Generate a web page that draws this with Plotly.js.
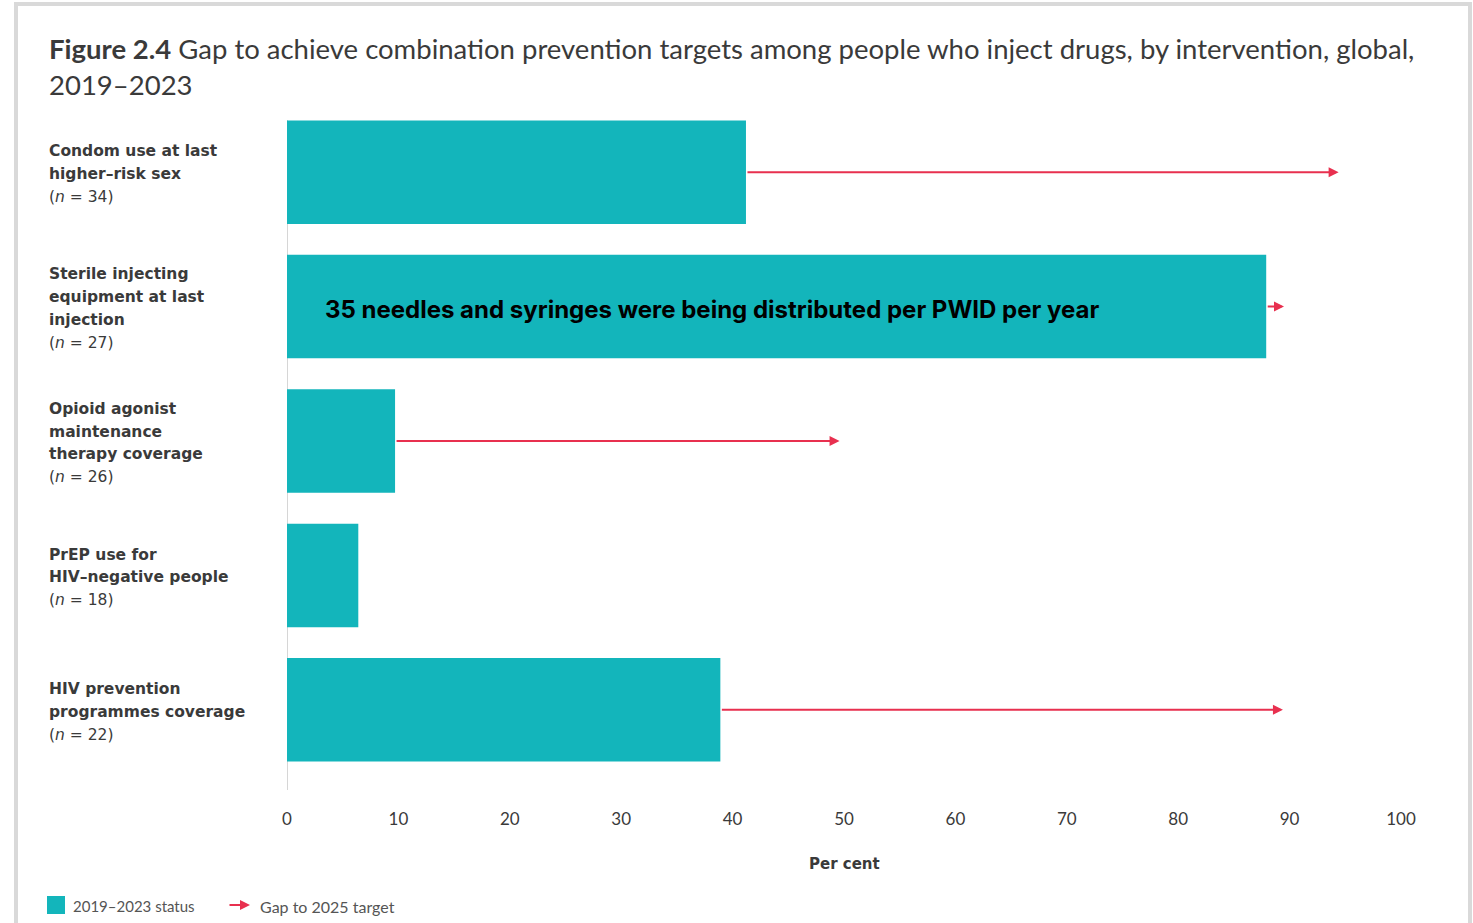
<!DOCTYPE html>
<html>
<head>
<meta charset="utf-8">
<script src="https://cdn.plot.ly/plotly-3.0.1.min.js"></script>
<style>
  html, body { margin: 0; padding: 0; background: #ffffff; }
  #wrap { position: relative; width: 1473px; height: 923px; overflow: hidden; }
  #chart { position: absolute; left: 0; top: 0; width: 1473px; height: 923px; }
  #frame { position: absolute; left: 14px; top: 2px; width: 1450px; height: 940px;
           border: 4px solid #d9d9d9; pointer-events: none; }
</style>
</head>
<body>
<div id="wrap">
  <div id="chart"></div>
  <div id="frame"></div>
</div>
<script>
// ---- data ----
const categoryIds = ["condom", "sterile", "opioid", "prep", "hivprev"];
const categoryLabels = [
  ["Condom use at last", "higher–risk sex"],
  ["Sterile injecting", "equipment at last", "injection"],
  ["Opioid agonist", "maintenance", "therapy coverage"],
  ["PrEP use for", "HIV–negative people"],
  ["HIV prevention", "programmes coverage"]
];
const sampleSizes = [34, 27, 26, 18, 22];
const status2019_2023 = [41.2, 87.9, 9.7, 6.4, 38.9];
const target2025 = [94.4, 89.5, 49.6, null, 89.4];
const xTicks = [0, 10, 20, 30, 40, 50, 60, 70, 80, 90, 100];
const barNote = "35 needles and syringes were being distributed per PWID per year";
const barNoteCategory = "sterile";
const titleBold = "Figure 2.4";
const titleRest = "Gap to achieve combination prevention targets among people who inject drugs, by intervention, global,<br>2019–2023";

// ---- style ----
const TEAL = "#13b5bb";
const RED = "#e8304f";
const TXT = "#3a3a3a";
const LABEL_FONT = "DejaVu Sans, sans-serif";

// plot geometry helpers (pixel -> paper) for decorations outside the plot
const L = 287, R = 72, T = 105, B = 146, W = 1473, H = 923;
const pw = W - L - R, ph = H - T - B;
const xp = px => (px - L) / pw;
const yp = py => (H - B - py) / ph;

const bar = {
  type: "bar",
  orientation: "h",
  x: status2019_2023,
  y: categoryIds,
  marker: { color: TEAL },
  width: 0.77,
  hoverinfo: "x",
  showlegend: false
};

const annotations = [];

// title
annotations.push({
  xref: "paper", yref: "paper", x: xp(47), y: yp(30),
  xanchor: "left", yanchor: "top", align: "left",
  text: "<b>" + titleBold + "</b> " + titleRest, showarrow: false,
  font: { family: "Lato, sans-serif", size: 27.5, color: TXT }
});

// category labels, one annotation per line
const LINE = 22.8;
categoryIds.forEach((id, i) => {
  const lines = categoryLabels[i].map(s => ({ t: s, bold: true }));
  lines.push({ t: "(<i>n</i> = " + sampleSizes[i] + ")", bold: false });
  const n = lines.length;
  lines.forEach((ln, k) => {
    annotations.push({
      xref: "paper", yref: "y", x: xp(47), y: id,
      xanchor: "left", yanchor: "middle", align: "left",
      yshift: -(k - (n - 1) / 2) * LINE - 2,
      text: ln.bold ? "<b>" + ln.t + "</b>" : ln.t, showarrow: false,
      font: { family: LABEL_FONT, size: 15.5, color: TXT }
    });
  });
});

// gap arrows
categoryIds.forEach((id, i) => {
  if (target2025[i] == null) return;
  annotations.push({
    xref: "x", yref: "y", x: target2025[i], y: id,
    axref: "x", ayref: "y", ax: status2019_2023[i], ay: id,
    showarrow: true, arrowhead: 2, arrowsize: 1, arrowwidth: 2,
    arrowcolor: RED, standoff: 0, startstandoff: 0, text: ""
  });
});

// note inside bar
annotations.push({
  xref: "x", yref: "y", x: 3.2, y: barNoteCategory,
  xanchor: "left", yanchor: "middle", yshift: -3,
  text: "<b>" + barNote + "</b>", showarrow: false,
  font: { family: "Inter, sans-serif", size: 24, color: "#000000" }
});

// x axis title
annotations.push({
  xref: "x", yref: "paper", x: 50, y: yp(864),
  xanchor: "center", yanchor: "middle",
  text: "<b>Per cent</b>", showarrow: false,
  font: { family: LABEL_FONT, size: 15, color: TXT }
});

// legend
annotations.push({
  xref: "paper", yref: "paper", x: xp(71), y: yp(906),
  xanchor: "left", yanchor: "middle",
  text: "2019–2023 status", showarrow: false,
  font: { family: "Lato, sans-serif", size: 15, color: "#555555" }
});
annotations.push({
  xref: "paper", yref: "paper", x: xp(250), y: yp(905),
  ax: -22, ay: 0, showarrow: true, arrowhead: 2, arrowsize: 1,
  arrowwidth: 2, arrowcolor: RED, standoff: 0, text: ""
});
annotations.push({
  xref: "paper", yref: "paper", x: xp(258), y: yp(906),
  xanchor: "left", yanchor: "middle",
  text: "Gap to 2025 target", showarrow: false,
  font: { family: "Lato, sans-serif", size: 16, color: "#555555" }
});

const shapes = [
  { type: "line", xref: "x", yref: "paper", x0: 0, x1: 0, y0: yp(790), y1: yp(120),
    line: { color: "#c8c8c8", width: 1.5 }, layer: "below" },
  { type: "rect", xref: "paper", yref: "paper",
    x0: xp(47), x1: xp(65), y0: yp(914), y1: yp(896),
    fillcolor: TEAL, line: { width: 0 } }
];

const layout = {
  width: W, height: H,
  margin: { l: L, r: R, t: T, b: B },
  paper_bgcolor: "#ffffff", plot_bgcolor: "#ffffff",
  xaxis: {
    range: [0, 100], tickvals: xTicks, ticktext: xTicks.map(String),
    showgrid: false, zeroline: false, showline: false,
    ticks: "outside", ticklen: 27, tickcolor: "rgba(0,0,0,0)",
    tickfont: { family: "Lato, sans-serif", size: 17, color: TXT },
    fixedrange: true
  },
  yaxis: {
    type: "category", categoryorder: "array", categoryarray: categoryIds,
    range: [4.5, -0.5], showticklabels: false, showgrid: false,
    zeroline: false, showline: false, ticks: "", fixedrange: true
  },
  annotations: annotations,
  shapes: shapes,
  showlegend: false,
  bargap: 0.23
};

Plotly.newPlot("chart", [bar], layout, { displayModeBar: false, staticPlot: true });
</script>
</body>
</html>
